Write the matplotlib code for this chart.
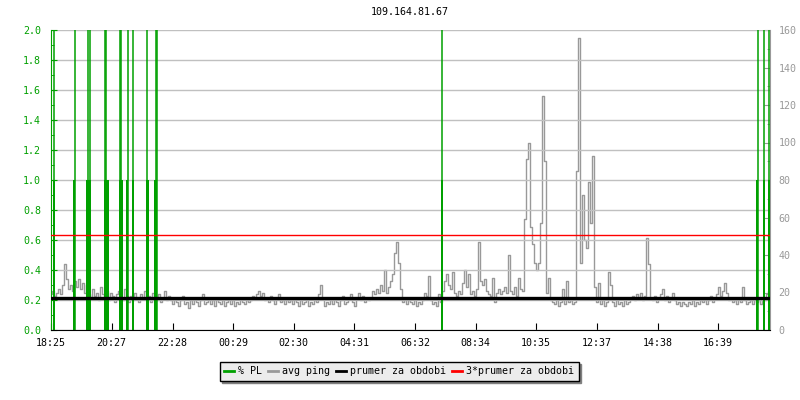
#!/usr/bin/env python3
"""Ping / packet-loss chart for 109.164.81.67 (24 h window)."""

import numpy as np
import matplotlib
matplotlib.use("Agg")
import matplotlib.pyplot as plt
from matplotlib.lines import Line2D
from matplotlib.ticker import MultipleLocator

# ── Data ──────────────────────────────────────────────────────────────────────

title = "109.164.81.67"

# x axis: minutes since 18:25
x_span = 1438
tick_minutes = [0, 121, 243, 364, 485, 606, 728, 849, 970, 1091, 1213, 1334]
tick_labels = ["18:25", "20:27", "22:28", "00:29", "02:30", "04:31",
               "06:32", "08:34", "10:35", "12:37", "14:38", "16:39"]

# avg ping (ms), one sample every 4 minutes
ping_step = 4
avg_ping = [
    19, 21, 18, 20, 22, 19, 24, 35, 27, 22, 24, 21, 26, 23, 27, 22, 25, 20, 24, 19,
    17, 22, 18, 20, 16, 23, 19, 17, 21, 16, 20, 18, 15, 19, 21, 17, 16, 22, 18, 15,
    18, 16, 20, 17, 15, 19, 17, 21, 16, 18, 15, 20, 17, 16, 19, 15, 17, 21, 16, 18,
    16, 14, 17, 15, 13, 16, 18, 14, 15, 12, 16, 14, 17, 15, 13, 16, 19, 14, 15, 17,
    14, 16, 13, 17, 15, 14, 16, 13, 15, 17, 14, 16, 13, 15, 14, 17, 15, 14, 16, 15,
    16, 18, 17, 19, 21, 18, 20, 16, 17, 15, 18, 16, 14, 17, 19, 15, 16, 14, 17, 15,
    16, 14, 17, 15, 13, 16, 14, 15, 17, 13, 15, 14, 16, 15, 19, 24, 17, 13, 15, 14,
    16, 14, 17, 15, 13, 16, 18, 14, 15, 17, 19, 15, 13, 17, 20, 16, 18, 15, 17, 16,
    17, 21, 19, 22, 20, 24, 21, 32, 20, 23, 26, 30, 41, 47, 36, 22, 15, 17, 14, 16,
    15, 14, 16, 13, 15, 14, 16, 20, 18, 29, 16, 14, 15, 13, 19, 15, 21, 26, 30, 24,
    22, 31, 20, 18, 21, 19, 25, 32, 23, 30, 19, 21, 18, 22, 47, 26, 24, 27, 21, 19,
    18, 28, 15, 20, 22, 19, 21, 23, 20, 40, 21, 19, 23, 18, 28, 22, 21, 59, 91, 100,
    55, 46, 36, 32, 36, 57, 125, 90, 20, 28, 16, 15, 14, 16, 13, 15, 22, 14, 26, 15,
    16, 14, 15, 85, 156, 36, 72, 48, 44, 79, 57, 93, 23, 15, 25, 14, 16, 13, 15, 31,
    24, 15, 13, 16, 14, 15, 13, 16, 14, 15, 17, 18, 16, 19, 17, 20, 16, 18, 49, 35,
    17, 16, 18, 15, 17, 19, 22, 16, 18, 15, 17, 20, 16, 14, 15, 13, 15, 14, 13, 15,
    14, 16, 13, 15, 14, 16, 15, 17, 14, 16, 18, 15, 17, 19, 23, 18, 21, 25, 20, 16,
    17, 15, 16, 14, 17, 15, 23, 16, 14, 15, 16, 14, 17, 15, 16, 14, 17, 16, 19, 21,
]

# period average (ms) and 3x average
mean_ping = 16.9
mean_ping_x3 = 3 * mean_ping

# % packet loss: runs at 1 %, [start, end] minutes
pl_run_start = [4, 43, 69, 105, 136, 150, 162, 190, 205, 779, 1410, 1424, 1434]
pl_run_end = [8, 48, 80, 115, 144, 154, 166, 195, 212, 784, 1414, 1428, 1438]
pl_run_value = [1.0] * len(pl_run_start)
# single samples off the top of the scale
pl_peak_min = [5, 47, 73, 77, 107, 110, 137, 140, 153, 163, 191, 209, 211,
               781, 1413, 1426, 1435]
pl_peak_value = [2.0] * len(pl_peak_min)

# ── Style ─────────────────────────────────────────────────────────────────────

GREEN = "#00a000"
GRAY = "#999999"
GRID = "#c0c0c0"

plt.rcParams["font.family"] = ["DejaVu Sans Mono"]
plt.rcParams["font.size"] = 7.2

# ── Figure ────────────────────────────────────────────────────────────────────

fig = plt.figure(figsize=(8, 4), dpi=100)
rect = [51 / 800, 70 / 400, 719 / 800, 300 / 400]
ax = fig.add_axes(rect)          # % PL (left)
ax_ms = ax.twinx()               # ping ms (right)
ax_ref = ax.twinx()              # mean lines, drawn on top

ax_ms.set_zorder(1)
ax.set_zorder(2)
ax_ref.set_zorder(3)
for a in (ax, ax_ms, ax_ref):
    a.patch.set_visible(False)
    for s in a.spines.values():
        s.set_visible(False)

ping_x = np.arange(len(avg_ping)) * ping_step
ax_ms.plot(ping_x, avg_ping, drawstyle="steps-mid", color=GRAY, linewidth=1.0)

widths = np.array(pl_run_end) - np.array(pl_run_start)
ax.bar(pl_run_start, pl_run_value, width=widths, align="edge",
       color=GREEN, linewidth=0)
ax.vlines(pl_peak_min, 0, pl_peak_value, color=GREEN, linewidth=1.1)

ax_ref.axhline(mean_ping_x3, color="red", linewidth=1.0)
ax_ref.axhline(mean_ping, color="black", linewidth=2.4)

# axes
ax.set_xlim(0, x_span)
ax.set_ylim(0, 2.0)
ax_ms.set_ylim(0, 160)
ax_ref.set_ylim(0, 160)
ax_ref.set_yticks([])

ax.set_xticks(tick_minutes)
ax.set_xticklabels(tick_labels)
ax.set_yticks(np.arange(0, 2.01, 0.2))
ax.yaxis.set_minor_locator(MultipleLocator(0.1))
ax.set_yticklabels([f"{v:.1f}" for v in np.arange(0, 2.01, 0.2)])
ax_ms.set_yticks(np.arange(0, 161, 20))
ax_ms.yaxis.set_minor_locator(MultipleLocator(10))

ax.grid(axis="y", color=GRID, linewidth=1.0)
ax.set_axisbelow(True)

ax.spines["left"].set_visible(True)
ax.spines["left"].set_color(GREEN)
ax.spines["bottom"].set_visible(True)
ax.spines["bottom"].set_color("black")
ax_ms.spines["right"].set_visible(True)
ax_ms.spines["right"].set_color(GRAY)

ax.tick_params(axis="x", direction="in", length=5, color="black", pad=6)
ax.tick_params(axis="y", which="major", direction="in", length=4,
               color=GREEN, labelcolor=GREEN, pad=7)
ax.tick_params(axis="y", which="minor", direction="in", length=2, color=GREEN)
ax_ms.tick_params(axis="y", which="major", direction="in", length=4,
                  color=GRAY, labelcolor=GRAY, pad=6)
ax_ms.tick_params(axis="y", which="minor", direction="in", length=2, color=GRAY)

fig.text(410 / 800, 1 - 12 / 400, title, ha="center", va="center")

handles = [
    Line2D([], [], color=GREEN, linewidth=2),
    Line2D([], [], color=GRAY, linewidth=2),
    Line2D([], [], color="black", linewidth=2),
    Line2D([], [], color="red", linewidth=2),
]
labels = ["% PL", "avg ping", "prumer za obdobi", "3*prumer za obdobi"]
fig.legend(handles, labels, loc="center", bbox_to_anchor=(399 / 800, 1 - 371 / 400),
           ncol=4, frameon=True, fancybox=False, edgecolor="black",
           facecolor="#ececec", framealpha=1,
           shadow={"color": "#808080", "alpha": 1.0},
           handlelength=1.0, handletextpad=0.4, columnspacing=0.6,
           borderpad=0.45, borderaxespad=0)

fig.savefig("out.png", dpi=100)
